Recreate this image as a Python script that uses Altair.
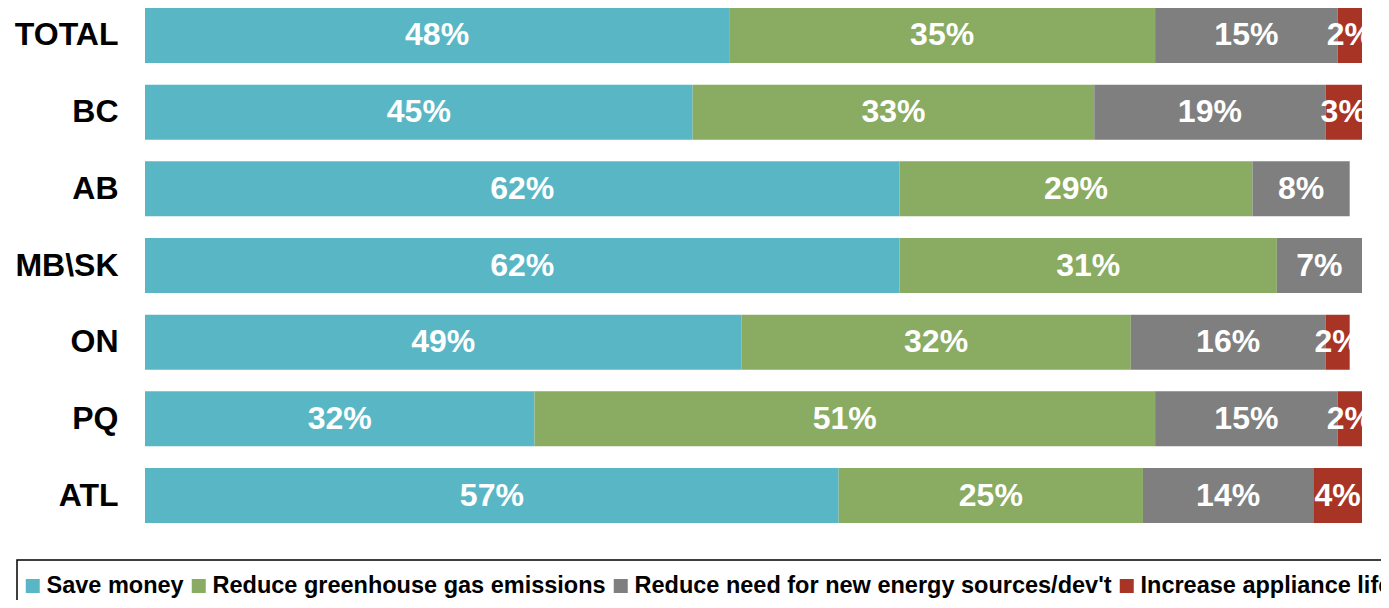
import altair as alt
import pandas as pd

regions = ["TOTAL", "BC", "AB", "MB\\SK", "ON", "PQ", "ATL"]
series = [
    "Save money",
    "Reduce greenhouse gas emissions",
    "Reduce need for new energy sources/dev't",
    "Increase appliance life",
]
save_money = [48, 45, 62, 62, 49, 32, 57]
reduce_ghg = [35, 33, 29, 31, 32, 51, 25]
reduce_need = [15, 19, 8, 7, 16, 15, 14]
appliance_life = [2, 3, None, None, 2, 2, 4]
colors = ["#59B7C5", "#8AAB62", "#7F7F7F", "#A83425"]

rows = []
for i, r in enumerate(regions):
    for j, vals in enumerate([save_money, reduce_ghg, reduce_need, appliance_life]):
        v = vals[i]
        if v is None:
            continue
        rows.append({"region": r, "series": series[j], "order": j, "value": v})
df = pd.DataFrame(rows)

FONT = "Liberation Sans"

y_enc = alt.Y(
    "region:N",
    sort=regions,
    scale=alt.Scale(paddingInner=0.283, paddingOuter=0),
    axis=alt.Axis(
        title=None, ticks=False, domain=False, labelFontSize=32, labelFont=FONT,
        labelFontWeight="bold", labelColor="black", labelPadding=27,
    ),
)
x_scale = alt.Scale(domain=[0, 100], nice=False, zero=True)

stacked = alt.Chart(df).transform_stack(
    stack="value",
    groupby=["region"],
    sort=[alt.SortField("order", order="ascending")],
    as_=["x0", "x1"],
).transform_calculate(
    mid="(datum.x0 + datum.x1) / 2",
    label="datum.value + '%'",
)

bars = stacked.mark_bar().encode(
    x=alt.X("x0:Q", scale=x_scale, axis=None),
    x2="x1:Q",
    y=y_enc,
    color=alt.Color(
        "series:N",
        scale=alt.Scale(domain=series, range=colors),
        legend=alt.Legend(
            title=None, orient="none", legendX=-128, legendY=552,
            direction="horizontal", columns=4, symbolType="square",
            symbolSize=196, symbolStrokeWidth=0, symbolOffset=-2,
            labelFontSize=23.5, labelFont=FONT, labelFontWeight="bold",
            labelColor="black", columnPadding=5, labelOffset=2, padding=6,
            clipHeight=40, strokeColor="black", labelLimit=1000,
        ),
    ),
)

texts = stacked.mark_text(
    color="white", fontSize=32, font=FONT, fontWeight="bold", clip=True
).encode(
    x=alt.X("mid:Q", scale=x_scale, axis=None),
    y=y_enc,
    text="label:N",
)

mask = alt.Chart(df).transform_aggregate(
    total="sum(value)", groupby=["region"]
).mark_bar(color="white", clip=True).encode(
    x=alt.X("total:Q", scale=x_scale, axis=None),
    x2=alt.datum(100),
    y=y_enc,
)

chart = alt.layer(bars, texts, mask).properties(
    width=1217,
    height=515,
    autosize=alt.AutoSizeParams(type="none"),
    padding={"left": 137, "top": 0, "right": 19, "bottom": 77},
).configure_view(stroke=None).configure_legend(strokeWidth=1.5)

chart.save("out.html", embed_options={"renderer": "svg", "actions": False})
